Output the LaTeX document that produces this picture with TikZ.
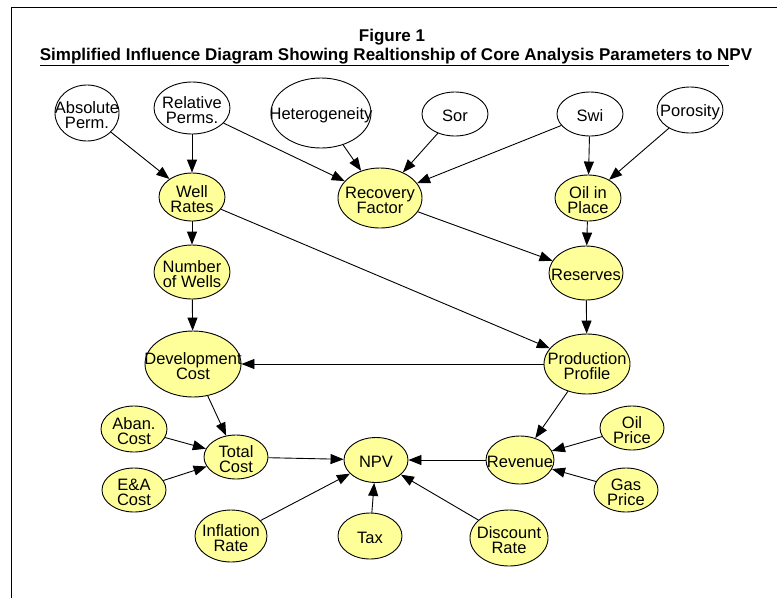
\documentclass[tikz,border=0pt]{standalone}
\usepackage{fontspec}
\setmainfont{Liberation Sans}
\usetikzlibrary{shapes.geometric,arrows.meta}
\definecolor{nodeyellow}{RGB}{255,255,153}
\begin{document}
\begin{tikzpicture}[
      x=1pt, y=-1pt,
      base/.style={ellipse, draw, line width=0.9pt, inner sep=0pt},
      inp/.style={base, fill=white},
      var/.style={base, fill=nodeyellow},
      sz/.style 2 args={minimum width=#1pt, minimum height=#2pt},
      every label/.style={align=center, inner sep=0pt, yshift=-2pt,
                          font=\fontsize{16.5}{15}\selectfont},
      ttl/.style={font=\fontsize{17}{19}\selectfont\bfseries, inner sep=0pt},
      arrow/.style={-{Triangle[length=13pt,width=10pt]}, line width=0.9pt}
    ]
    \useasboundingbox (0,0) rectangle (777,598);
    \draw[line width=1.6pt] (11.5,598) -- (11.5,7.5) -- (777,7.5);
    \node[ttl] (fig)  at (392,37) {Figure 1};
    \node[ttl] (head) at (396,57) {\underline{Simplified Influence Diagram Showing Realtionship of Core Analysis Parameters to N}PV};
    % inputs
    \node[inp, sz={64}{56},  label=center:{Absolute\\Perm.}]   (abs)  at (87,113)  {};
    \node[inp, sz={76}{52},  label=center:{Relative\\Perms.}]  (rel)  at (192,108) {};
    \node[inp, sz={100}{70}, label=center:{Heterogeneity}]     (het)  at (321,113) {};
    \node[inp, sz={66}{44},  label=center:{Sor}]               (sor)  at (455,114) {};
    \node[inp, sz={66}{44},  label=center:{Swi}]               (swi)  at (590,114) {};
    \node[inp, sz={66}{46},  label=center:{Porosity}]          (por)  at (690,110) {};
    % model
    \node[var, sz={66}{48},  label=center:{Well\\Rates}]       (wr)   at (192,197) {};
    \node[var, sz={84}{60},  label=center:{Recovery\\Factor}]  (rf)   at (380,198) {};
    \node[var, sz={66}{46},  label=center:{Oil in\\Place}]     (oip)  at (588,198) {};
    \node[var, sz={76}{54},  label=center:{Number\\of Wells}]  (nw)   at (192,272) {};
    \node[var, sz={74}{54},  label=center:{Reserves}]          (res)  at (586,273) {};
    \node[var, sz={96}{66},  label=center:{Development\\Cost}] (dev)  at (193,364) {};
    \node[var, sz={86}{60},  label=center:{Production\\Profile}] (prod) at (587,364) {};
    \node[var, sz={66}{46},  label=center:{Aban.\\Cost}]       (aban) at (134,429) {};
    \node[var, sz={64}{44},  label=center:{E\&A\\Cost}]        (ea)   at (134,490) {};
    \node[var, sz={64}{44},  label=center:{Total\\Cost}]       (tc)   at (236,457) {};
    \node[var, sz={64}{45},  label=center:{NPV}]               (npv)  at (376,460) {};
    \node[var, sz={68}{48},  label=center:{Revenue}]           (rev)  at (520,460) {};
    \node[var, sz={64}{44},  label=center:{Oil\\Price}]        (oilp) at (632,428) {};
    \node[var, sz={64}{44},  label=center:{Gas\\Price}]        (gasp) at (626,490) {};
    \node[var, sz={72}{52},  label=center:{Inflation\\Rate}]   (inf)  at (231,536) {};
    \node[var, sz={64}{46},  label=center:{Tax}]               (tax)  at (370,536) {};
    \node[var, sz={78}{56},  label=center:{Discount\\Rate}]    (disc) at (509,538) {};
    % influences
    \draw[arrow] (abs)  -- (wr);
    \draw[arrow] (rel)  -- (wr);
    \draw[arrow] (rel)  -- (rf);
    \draw[arrow] (het)  -- (rf);
    \draw[arrow] (sor)  -- (rf);
    \draw[arrow] (swi)  -- (rf);
    \draw[arrow] (swi)  -- (oip);
    \draw[arrow] (por)  -- (oip);
    \draw[arrow] (wr)   -- (nw);
    \draw[arrow] (wr)   -- (prod);
    \draw[arrow] (rf)   -- (res);
    \draw[arrow] (oip)  -- (res);
    \draw[arrow] (nw)   -- (dev);
    \draw[arrow] (res)  -- (prod);
    \draw[arrow] (prod) -- (dev);
    \draw[arrow] (dev)  -- (tc);
    \draw[arrow] (prod) -- (rev);
    \draw[arrow] (aban) -- (tc);
    \draw[arrow] (ea)   -- (tc);
    \draw[arrow] (tc)   -- (npv);
    \draw[arrow] (rev)  -- (npv);
    \draw[arrow] (oilp) -- (rev);
    \draw[arrow] (gasp) -- (rev);
    \draw[arrow] (inf)  -- (npv);
    \draw[arrow] (tax)  -- (npv);
    \draw[arrow] (disc) -- (npv);
  \end{tikzpicture}
\end{document}
